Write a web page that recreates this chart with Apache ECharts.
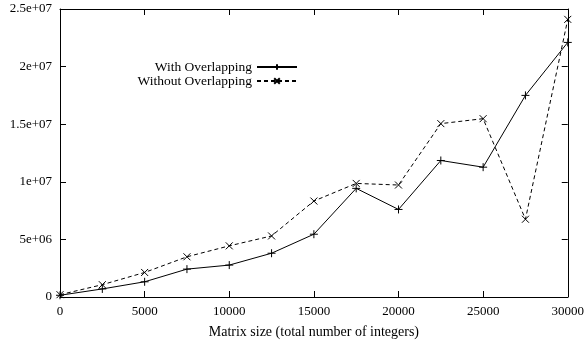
<!DOCTYPE html>
<html>
<head>
<meta charset="utf-8">
<script src="https://cdn.jsdelivr.net/npm/echarts@6/dist/echarts.min.js"></script>
<style>
html,body{margin:0;padding:0;background:#fff;}
#chart{width:587px;height:344px;}
</style>
</head>
<body>
<div id="chart"></div>
<script>
// matrix sizes (x) and times for both runs
var sizes = [0, 2500, 5000, 7500, 10000, 12500, 15000, 17500, 20000, 22500, 25000, 27500, 30000];
var withOverlap = [150000, 700000, 1320000, 2420000, 2770000, 3800000, 5450000, 9430000, 7600000, 11850000, 11270000, 17500000, 22100000];
var withoutOverlap = [200000, 1070000, 2130000, 3490000, 4440000, 5300000, 8330000, 9860000, 9720000, 15050000, 15480000, 6750000, 24100000];
var yTicks = [0, 5000000, 10000000, 15000000, 20000000, 25000000];
var yTickLabels = ['0', '5e+06', '1e+07', '1.5e+07', '2e+07', '2.5e+07'];

var font = 'Liberation Serif';

function pairs(xs, ys){
    var out = [];
    for (var i = 0; i < xs.length; i++){
        out.push([xs[i], ys[i]]);
    }
    return out;
}

function ylabel(v){
    var i = yTicks.indexOf(v);
    return i >= 0 ? yTickLabels[i] : '';
}

function line(){
    return {show: true, onZero: false, lineStyle: {color: '#000', width: 1}};
}
// ticks drawn into the plot (gnuplot style)
function tick(){
    return {show: true, inside: true, length: 6, lineStyle: {color: '#000', width: 1}};
}

var myChart = echarts.init(document.getElementById('chart'));
var option = {
    animation: false,
    backgroundColor: '#fff',
    textStyle: {fontFamily: font, color: '#000'},
    grid: {left: 60, right: 17, top: 9, bottom: 46},
    legend: {
        orient: 'vertical',
        align: 'right',
        right: 289,
        top: 60,
        padding: 0,
        itemGap: 0,
        itemWidth: 40,
        itemHeight: 7,
        textStyle: {fontFamily: font, fontSize: 13.5, lineHeight: 14, color: '#000'},
        data: ['With Overlapping', 'Without Overlapping']
    },
    xAxis: [{
        type: 'value', min: 0, max: 30000, interval: 5000,
        name: 'Matrix size (total number of integers)',
        nameLocation: 'middle', nameGap: 28,
        nameTextStyle: {fontFamily: font, fontSize: 14, color: '#000'},
        axisLine: line(), axisTick: tick(),
        axisLabel: {margin: 8, fontFamily: font, fontSize: 13, color: '#000', formatter: function(v){ return String(v); }},
        splitLine: {show: false}
    }, {
        type: 'value', position: 'top', min: 0, max: 30000, interval: 5000,
        axisLine: line(), axisTick: tick(),
        axisLabel: {show: false}, splitLine: {show: false}
    }],
    yAxis: [{
        type: 'value', min: 0, max: 25000000, interval: 5000000,
        axisLine: line(), axisTick: tick(),
        axisLabel: {margin: 8, fontFamily: font, fontSize: 13, color: '#000', formatter: ylabel},
        splitLine: {show: false}
    }, {
        type: 'value', position: 'right', min: 0, max: 25000000, interval: 5000000,
        axisLine: line(), axisTick: tick(),
        axisLabel: {show: false}, splitLine: {show: false}
    }],
    series: [{
        name: 'With Overlapping',
        type: 'line',
        data: pairs(sizes, withOverlap),
        symbol: 'path://M5,0L5,10M0,5L10,5',
        symbolSize: 8,
        showSymbol: true,
        lineStyle: {color: '#000', width: 1},
        itemStyle: {color: '#000', borderColor: '#000', borderWidth: 1}
    }, {
        name: 'Without Overlapping',
        type: 'line',
        data: pairs(sizes, withoutOverlap),
        symbol: 'path://M0,0L10,10M10,0L0,10',
        symbolSize: 7,
        showSymbol: true,
        lineStyle: {color: '#000', width: 1, type: [4, 3]},
        itemStyle: {color: '#000', borderColor: '#000', borderWidth: 1}
    }]
};
myChart.setOption(option);
</script>
</body>
</html>
